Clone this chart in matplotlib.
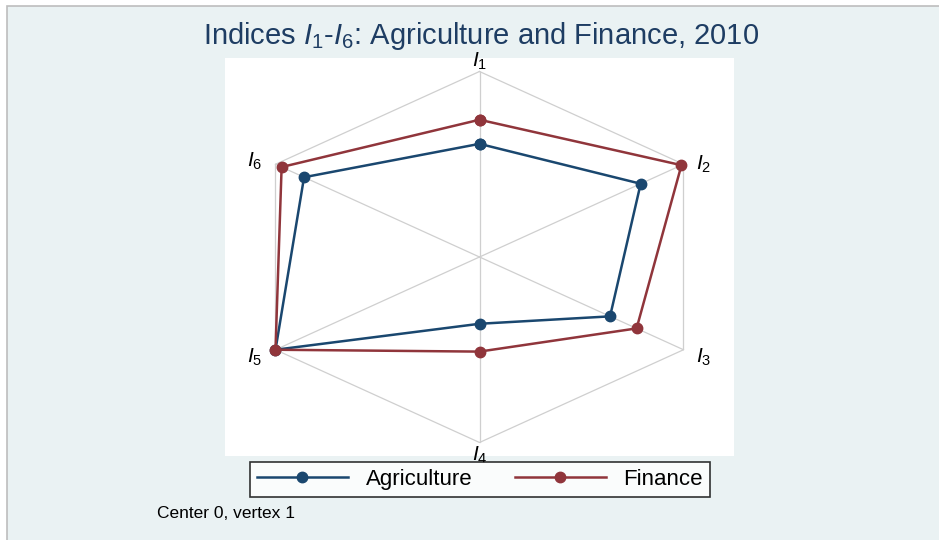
import numpy as np
import matplotlib
matplotlib.use("Agg")
import matplotlib.pyplot as plt
from matplotlib.patches import Rectangle
from matplotlib.lines import Line2D

plt.rcParams["font.family"] = ["Liberation Sans", "DejaVu Sans"]
plt.rcParams["mathtext.fontset"] = "custom"
plt.rcParams["mathtext.rm"] = "Liberation Sans"
plt.rcParams["mathtext.it"] = "Liberation Sans:italic"

# datos (centro 0, vertice 1)
indices = ["$I_1$", "$I_2$", "$I_3$", "$I_4$", "$I_5$", "$I_6$"]
agriculture = [0.61, 0.79, 0.64, 0.36, 1.00, 0.86]
finance = [0.74, 0.99, 0.77, 0.51, 1.00, 0.97]

navy = "#1a476f"
maroon = "#90353b"
fondo = "#eaf2f3"

fig = plt.figure(figsize=(9.39, 5.4), dpi=100)
fig.patch.set_facecolor("white")

# fondo con borde gris arriba y a la izquierda
fig.add_artist(Rectangle((7 / 939, -0.01), 1.0, 1 - 6 / 540 + 0.01, transform=fig.transFigure,
                         facecolor=fondo, edgecolor="#bdbdbd", linewidth=1.2, zorder=-10))

ax = fig.add_axes([225 / 939, 84 / 540, 509 / 939, 398 / 540])
ax.set_facecolor("white")
for s in ax.spines.values():
    s.set_visible(False)
ax.set_xticks([])
ax.set_yticks([])
ax.set_xlim(-1.0804, 1.0804)
ax.set_ylim(-1.0728, 1.0728)

n = len(indices)
ang = np.arange(n) * 2 * np.pi / n


def xy(vals):
    vals = np.asarray(vals)
    x = vals * np.sin(ang)
    y = vals * np.cos(ang)
    return np.append(x, x[0]), np.append(y, y[0])


# red
hx, hy = xy(np.ones(n))
ax.plot(hx, hy, color="#cfcfcf", lw=0.9, zorder=1)
for i in range(n):
    ax.plot([0, hx[i]], [0, hy[i]], color="#cfcfcf", lw=0.9, zorder=1)

# etiquetas de los ejes
offs = [(0, 0.0, "center", "bottom"), (0.055, 0, "left", "center"),
        (0.055, -0.04, "left", "center"), (0, -0.01, "center", "top"),
        (-0.055, -0.04, "right", "center"), (-0.055, 0.015, "right", "center")]
for i, lab in enumerate(indices):
    dx, dy, ha, va = offs[i]
    ax.text(hx[i] + dx, hy[i] + dy, lab, ha=ha, va=va, fontsize=15, color="black",
            clip_on=False)

ax.plot(*xy(agriculture), color=navy, lw=1.8, marker="o", ms=7.5, zorder=3, label="Agriculture")
ax.plot(*xy(finance), color=maroon, lw=1.8, marker="o", ms=7.5, zorder=4, label="Finance")

fig.text(481 / 939, 1 - 44 / 540, "Indices $I_1$-$I_6$: Agriculture and Finance, 2010",
         ha="center", va="baseline", fontsize=21, color="#1e3d63")

handles = [Line2D([], [], color=navy, lw=1.8, marker="o", ms=7.5),
           Line2D([], [], color=maroon, lw=1.8, marker="o", ms=7.5)]
leg = fig.legend(handles, ["Agriculture", "Finance"], loc="center",
                 bbox_to_anchor=(480 / 939, 1 - 479.5 / 540), ncol=2, fontsize=16,
                 frameon=True, fancybox=False, edgecolor="black", handlelength=4.1,
                 handletextpad=0.8, columnspacing=1.9, borderpad=0.3)
leg.get_frame().set_linewidth(1.2)
leg.get_frame().set_facecolor("white")

fig.text(157 / 939, 1 - 513 / 540, "Center 0, vertex 1", ha="left", va="center", fontsize=12.5)

fig.savefig("out.png", dpi=100)
